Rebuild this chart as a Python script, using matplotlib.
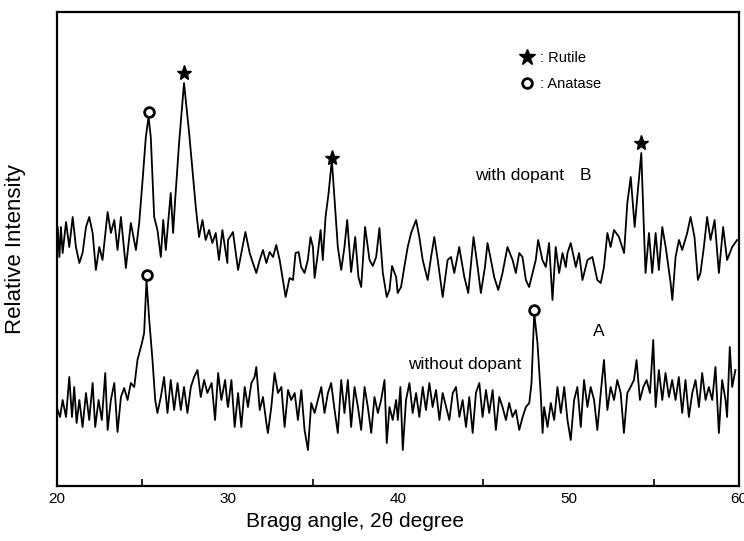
import matplotlib
matplotlib.use("Agg")
import matplotlib.pyplot as plt
from matplotlib.lines import Line2D

plt.rcParams['font.family'] = ['Liberation Sans', 'DejaVu Sans']

# trace B: with dopant (2theta in degrees, intensity in arbitrary units)
b_theta = [20.04, 20.14, 20.23, 20.33, 20.53, 20.72, 20.92, 21.11, 21.31, 21.50,
           21.70, 21.89, 22.09, 22.28, 22.48, 22.67, 22.97, 23.16, 23.36, 23.55,
           23.75, 24.04, 24.33, 24.63, 24.82, 25.02, 25.21, 25.37, 25.50, 25.70,
           25.89, 26.09, 26.23, 26.38, 26.67, 26.81, 26.93, 27.16, 27.45, 27.75,
           28.14, 28.33, 28.53, 28.72, 28.92, 29.11, 29.31, 29.50, 29.70, 29.99,
           30.03, 30.32, 30.62, 30.81, 31.05, 31.30, 31.49, 31.69, 31.89, 32.08,
           32.28, 32.47, 32.67, 32.86, 33.06, 33.41, 33.64, 33.84, 33.99, 34.17,
           34.32, 34.52, 34.71, 34.87, 35.01, 35.11, 35.30, 35.46, 35.59, 35.75,
           35.93, 36.12, 36.28, 36.47, 36.67, 36.86, 37.02, 37.25, 37.49, 37.68,
           37.84, 38.07, 38.33, 38.52, 38.72, 38.91, 39.11, 39.34, 39.50, 39.65,
           39.89,
           39.98, 40.18, 40.37, 40.57, 40.77, 41.06, 41.25, 41.45, 41.74, 41.94,
           42.13, 42.33, 42.62, 42.91, 43.11, 43.30, 43.59, 43.89, 44.12, 44.43,
           44.67, 44.86, 45.10, 45.25, 45.45, 45.64, 45.88, 46.13, 46.42, 46.72,
           46.91, 47.11, 47.30, 47.50, 47.69, 47.89, 48.08, 48.22, 48.47, 48.67,
           48.86, 49.06, 49.25, 49.45, 49.65, 49.84,
           49.94, 50.13, 50.43, 50.62, 50.82, 51.11, 51.40, 51.69, 51.89, 52.08,
           52.28, 52.47, 52.67, 52.96, 53.26, 53.45, 53.65, 53.88, 54.07, 54.27,
           54.43, 54.52, 54.72, 54.91, 55.11, 55.30, 55.50, 55.70, 55.99, 56.09,
           56.28, 56.48, 56.67, 56.96, 57.16, 57.39, 57.59, 57.74, 57.94, 58.13,
           58.33, 58.57, 58.82, 59.07, 59.30, 59.60, 59.89]
b_counts = [259, 229, 259, 233, 264, 239, 269, 239, 223, 233,
            259, 269, 253, 216, 239, 226, 274, 253, 266, 236,
            269, 218, 263, 236, 263, 306, 349, 369, 349, 269,
            256, 229, 266, 236, 293, 253, 286, 343, 403, 353,
            279, 249, 266, 246, 256, 243, 253, 226, 256, 223,
            246, 254, 216, 233, 254, 233, 223, 213, 226, 236,
            223, 234, 229, 241, 226, 189, 208, 206, 233, 234,
            219, 213, 226, 249, 239, 208, 233, 256, 226, 269,
            293, 326, 286, 239, 216, 239, 266, 214, 249, 209,
            199, 259, 226, 220, 229, 258, 213, 189, 196, 220,
            209,
            193, 199, 219, 239, 253, 266, 249, 226, 206, 229,
            249, 226, 189, 226, 229, 213, 239, 209, 193, 249,
            219, 193, 219, 243, 226, 209, 196, 213, 239, 226,
            213, 233, 229, 206, 199, 213, 226, 246, 226, 219,
            243, 186, 239, 213, 233, 219,
            233, 243, 219, 233, 206, 226, 229, 206, 203, 219,
            253, 239, 256, 249, 233, 283, 309, 259, 296, 333,
            253, 213, 253, 213, 253, 216, 259, 239, 203, 186,
            229, 246, 236, 253, 269, 249, 206, 213, 239, 269,
            246, 266, 213, 259, 226, 239, 246]

# trace A: without dopant
a_theta = [20.04, 20.18, 20.33, 20.53, 20.72, 20.88, 21.01, 21.15, 21.31, 21.50,
           21.70, 21.89, 22.09, 22.24, 22.44, 22.63, 22.83, 22.97, 23.16, 23.36,
           23.55, 23.75, 23.94, 24.14, 24.33, 24.53, 24.72, 24.98, 25.11, 25.25,
           25.41, 25.60, 25.76, 25.89, 26.09, 26.28, 26.48, 26.67, 26.87, 27.07,
           27.26, 27.45, 27.65, 27.85, 28.04, 28.24, 28.43, 28.63, 28.82, 29.07,
           29.27, 29.45, 29.64, 29.86, 29.99,
           30.03, 30.23, 30.42, 30.62, 30.81, 31.01, 31.20, 31.40, 31.59, 31.69,
           31.89, 32.08, 32.28, 32.37, 32.57, 32.76, 32.96, 33.16, 33.35, 33.55,
           33.74, 33.94, 34.13, 34.33, 34.52, 34.72, 34.91, 35.11, 35.30, 35.50,
           35.69, 35.89, 36.08, 36.28, 36.47, 36.67, 36.86, 37.06, 37.25, 37.45,
           37.65, 37.84, 38.04, 38.23, 38.43, 38.62, 38.82, 39.01, 39.21, 39.34,
           39.50, 39.69, 39.89,
           39.99, 40.14, 40.28, 40.47, 40.67, 40.86, 41.06, 41.25, 41.45, 41.64,
           41.84, 42.03, 42.23, 42.43, 42.62, 42.82, 43.01, 43.21, 43.40, 43.60,
           43.79, 43.99, 44.18, 44.38, 44.57, 44.77, 44.96, 45.16, 45.35, 45.55,
           45.74, 45.94, 46.13, 46.33, 46.52, 46.72, 46.91, 47.11, 47.31, 47.50,
           47.70, 47.83, 47.99, 48.18, 48.38, 48.48, 48.57, 48.77, 48.96, 49.16,
           49.35, 49.55, 49.75,
           49.94, 50.13, 50.33, 50.52, 50.72, 50.91, 51.11, 51.30, 51.50, 51.69,
           51.89, 52.08, 52.28, 52.47, 52.67, 52.86, 53.06, 53.25, 53.45, 53.64,
           53.84, 53.99, 54.19, 54.39, 54.58, 54.78, 54.97, 55.11, 55.30, 55.50,
           55.69, 55.89, 56.08, 56.28, 56.47, 56.67, 56.86, 57.06, 57.26, 57.45,
           57.65, 57.84, 58.04, 58.23, 58.43, 58.62, 58.82, 59.01, 59.21, 59.30,
           59.46, 59.60, 59.79]
a_counts = [76, 69, 86, 69, 109, 69, 99, 63, 86, 59,
            93, 66, 103, 59, 86, 66, 113, 56, 86, 103,
            54, 89, 98, 86, 103, 99, 126, 143, 153, 206,
            166, 126, 86, 73, 89, 109, 73, 106, 76, 103,
            76, 99, 73, 99, 109, 116, 89, 106, 93, 103,
            66, 113, 86, 106, 83,
            79, 106, 59, 93, 59, 99, 79, 103, 109, 119,
            76, 89, 63, 53, 79, 113, 93, 99, 59, 96,
            86, 93, 66, 96, 56, 36, 83, 73, 86, 99,
            73, 93, 103, 76, 53, 106, 73, 106, 59, 99,
            79, 56, 99, 79, 53, 89, 73, 86, 106, 43,
            79, 66, 86,
            66, 99, 36, 86, 103, 73, 93, 69, 99, 76,
            103, 79, 96, 66, 93, 79, 66, 93, 99, 69,
            86, 59, 89, 53, 93, 103, 69, 96, 73, 96,
            56, 89, 79, 66, 83, 69, 76, 56, 69, 79,
            83, 103, 173, 143, 89, 53, 79, 59, 83, 66,
            99, 73, 99,
            66, 46, 86, 99, 59, 106, 79, 99, 86, 56,
            93, 126, 76, 99, 86, 106, 93, 53, 93, 99,
            106, 126, 86, 99, 106, 93, 146, 79, 116, 86,
            113, 89, 106, 86, 109, 73, 106, 69, 93, 106,
            79, 113, 86, 99, 86, 119, 53, 106, 86, 69,
            139, 99, 116]

# phase marks above the peaks
rutile_theta = [27.45, 36.12, 54.27]
rutile_counts = [413, 328, 343]
anatase_theta = [25.37, 25.25, 48.0]
anatase_counts = [374, 211, 176]

fig = plt.figure(figsize=(7.44, 5.41), dpi=100)
ax = fig.add_axes([57 / 744, 1 - 486 / 541, 682 / 744, 474 / 541])

ax.plot(b_theta, b_counts, color='black', lw=1.3)
ax.plot(a_theta, a_counts, color='black', lw=1.3)
ax.plot(rutile_theta, rutile_counts, ls='none', marker='*', ms=11, color='black')
ax.plot(anatase_theta, anatase_counts, ls='none', marker='o', ms=7, mfc='white',
        mec='black', mew=2)

ax.set_xlim(20, 60)
ax.set_ylim(0, 474)
ax.set_yticks([])
ax.set_xticks([20, 30, 40, 50, 60])
ax.set_xticks([25, 35, 45, 55], minor=True)
ax.tick_params(axis='x', which='major', length=0, pad=4, labelsize=11)
ax.tick_params(axis='x', which='minor', direction='in', length=5, width=1.2)
for s in ax.spines.values():
    s.set_linewidth(1.6)

ax.set_xlabel("Bragg angle, 2\u03b8 degree", fontsize=15)
ax.xaxis.set_label_coords(0.437, -0.055)
ax.set_ylabel("Relative Intensity", fontsize=16)
ax.yaxis.set_label_coords(-0.046, 0.5)

ax.text(44.5, 311, "with dopant", fontsize=12.5, va='center')
ax.text(51.0, 311, "B", fontsize=12.5, va='center', ha='center')
ax.text(40.6, 121, "without dopant", fontsize=12.5, va='center')
ax.text(51.8, 155, "A", fontsize=12.5, va='center', ha='center')

handles = [Line2D([], [], ls='none', marker='*', ms=12, color='black'),
           Line2D([], [], ls='none', marker='o', ms=7, mfc='white', mec='black', mew=2)]
ax.legend(handles, [": Rutile", ": Anatase"], loc='upper left',
          bbox_to_anchor=(0.668, 0.933), frameon=False, fontsize=10.5,
          handlelength=1.0, handletextpad=0.4, labelspacing=0.85, borderpad=0)

fig.savefig("out.png", dpi=100)
